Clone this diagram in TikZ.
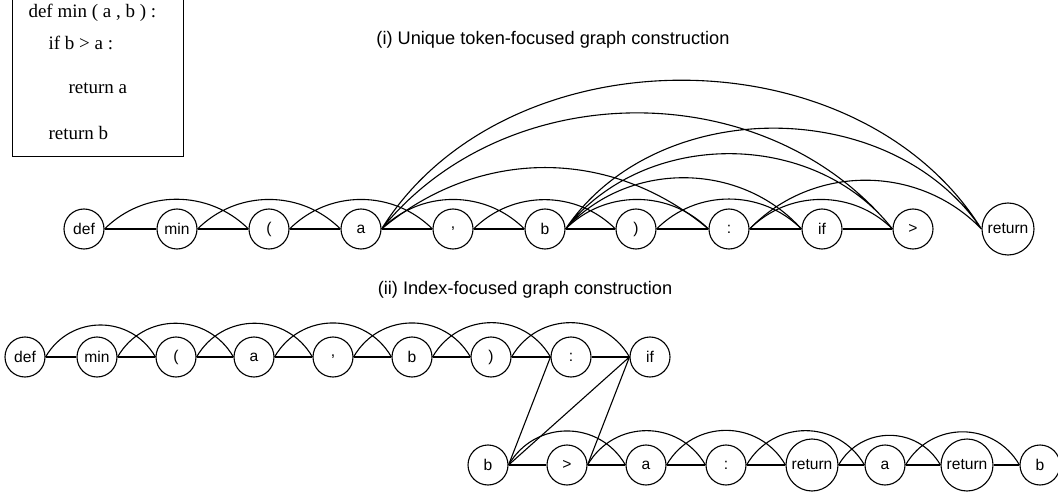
\documentclass[tikz,border=0pt]{standalone}
\usepackage{fontspec}
\setmainfont{Liberation Sans}
\newfontfamily\codefont{Liberation Serif}

\tikzset{
  tok/.style={draw, circle, minimum size=40pt, inner sep=1pt, font=\fontsize{15.6}{18}\selectfont},
  ret/.style={tok, minimum size=52pt},
  codeline/.style={anchor=west, inner sep=0pt, font=\codefont\fontsize{19}{22}\selectfont},
  heading/.style={inner sep=0pt, font=\fontsize{18.2}{22}\selectfont},
  hop/.style={out=60, in=120, looseness=1.15},
}

\begin{document}
\begin{tikzpicture}[x=1pt, y=-1pt, line width=1.1pt]
                    \useasboundingbox (0,0) rectangle (1058,497);

                    % code
                    \node[draw, anchor=north west, minimum width=171pt, minimum height=158pt] (codebox) at (12,-2) {};
                    \node[codeline] (c1) at (28,13) {def min ( a , b ) :};
                    \node[codeline] (c2) at (48,43) {if b > a :};
                    \node[codeline] (c3) at (68,88) {return a};
                    \node[codeline] (c4) at (48,133) {return b};

                    \node[heading] (head1) at (553,40) {(i) Unique token-focused graph construction};
                    \node[heading] (head2) at (525,290) {(ii) Index-focused graph construction};

                    % (i) unique tokens
                    \node[tok] (udef) at (84,229) {def};
                    \node[tok] (umin) at (177,229) {min};
                    \node[tok] (ulp) at (269,229) {(};
                    \node[tok] (ua) at (361,229) {a};
                    \node[tok] (ucom) at (453,229) {,};
                    \node[tok] (ub) at (545,229) {b};
                    \node[tok] (urp) at (636,229) {)};
                    \node[tok] (ucol) at (729,229) {:};
                    \node[tok] (uif) at (822,229) {if};
                    \node[tok] (ugt) at (913,229) {>};
                    \node[ret] (uret) at (1008,229) {return};

                    \draw (udef) -- (umin) -- (ulp) -- (ua) -- (ucom) -- (ub) -- (urp) -- (ucol) -- (uif) -- (ugt);
                    \draw (udef.east) to[out=45,in=135] (ulp.west)
                          (umin.east) to[out=45,in=135] (ua.west)
                          (ulp.east) to[out=45,in=135] (ucom.west)
                          (ua.east) to[out=45,in=135] (ub.west)
                          (ucom.east) to[out=45,in=135] (urp.west)
                          (ub.east) to[out=45,in=135] (ucol.west)
                          (urp.east) to[out=45,in=135] (uif.west)
                          (ucol.east) to[out=45,in=135] (ugt.west);
                    \draw (ua.east) to[out=40,in=140] (ucol.west)
                          (ua.east) to[out=51,in=129] (ugt.west)
                          (ua.east) to[out=58,in=122] (uret.west)
                          (ub.east) to[out=48,in=132] (uif.west)
                          (ub.east) to[out=52,in=128] (ugt.west)
                          (ub.east) to[out=56,in=124] (uret.west)
                          (ucol.east) to[out=46,in=134] (uret.west);

                    % (ii) index tokens
                    \node[tok] (i1) at (25,357) {def};
                    \node[tok] (i2) at (97,357) {min};
                    \node[tok] (i3) at (176,357) {(};
                    \node[tok] (i4) at (254,357) {a};
                    \node[tok] (i5) at (333,357) {,};
                    \node[tok] (i6) at (412,357) {b};
                    \node[tok] (i7) at (491,357) {)};
                    \node[tok] (i8) at (571,357) {:};
                    \node[tok] (i9) at (650,357) {if};
                    \node[tok] (i10) at (488,465) {b};
                    \node[tok] (i11) at (567,465) {>};
                    \node[tok] (i12) at (646,465) {a};
                    \node[tok] (i13) at (726,465) {:};
                    \node[ret] (i14) at (812,465) {return};
                    \node[tok] (i15) at (885,465) {a};
                    \node[ret] (i16) at (967,465) {return};
                    \node[tok] (i17) at (1040,465) {b};

                    \draw (i1) -- (i2) -- (i3) -- (i4) -- (i5) -- (i6) -- (i7) -- (i8) -- (i9);
                    \draw (i10) -- (i11) -- (i12) -- (i13) -- (i14) -- (i15) -- (i16) -- (i17);
                    \draw (i10.east) -- (i8.west) (i10.east) -- (i9.west) (i11.east) -- (i9.west);
                    \draw (i1.east) to[hop] (i3.west)
                          (i2.east) to[hop] (i4.west)
                          (i3.east) to[hop] (i5.west)
                          (i4.east) to[hop] (i6.west)
                          (i5.east) to[hop] (i7.west)
                          (i6.east) to[hop] (i8.west)
                          (i7.east) to[hop] (i9.west);
                    \draw (i10.east) to[hop] (i12.west)
                          (i11.east) to[hop] (i13.west)
                          (i12.east) to[hop] (i14.west)
                          (i13.east) to[hop] (i15.west)
                          (i14.east) to[hop] (i16.west)
                          (i15.east) to[hop] (i17.west);

                \end{tikzpicture}
\end{document}
